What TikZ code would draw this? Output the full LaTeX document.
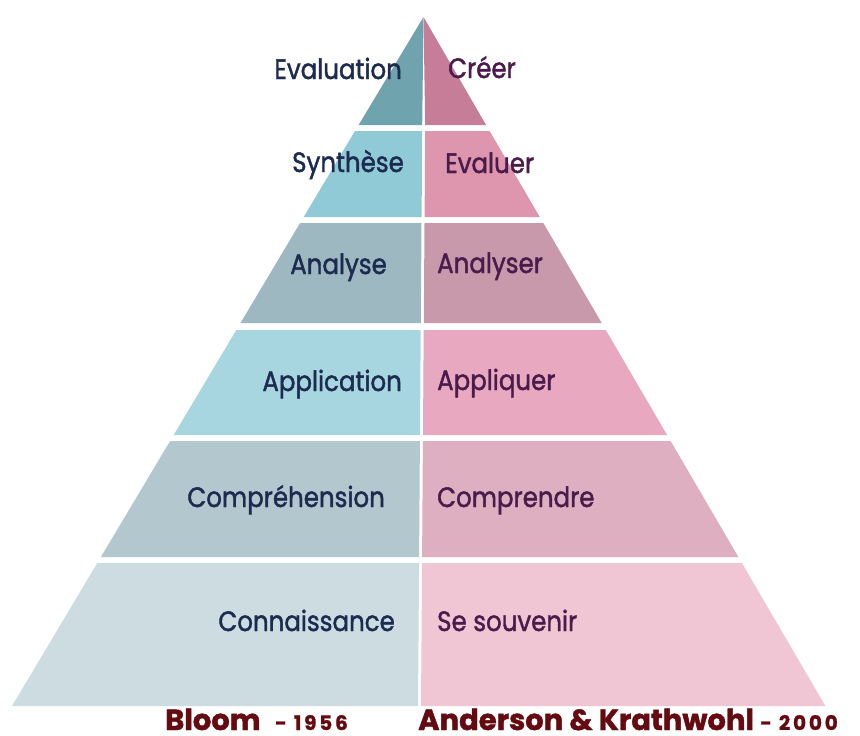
\documentclass[tikz,border=0pt]{standalone}
\usepackage{fontspec}
\setmainfont{Poppins}
\newfontfamily\labfont{Poppins}[FakeBold=1.6]
\newfontfamily\titlefont{Poppins}[BoldFeatures={FakeBold=1.5}]
\newfontfamily\yearfont{Poppins}[LetterSpace=14,BoldFeatures={FakeBold=1}]
\definecolor{LA}{RGB}{111,163,173}
\definecolor{LB}{RGB}{143,202,214}
\definecolor{LC}{RGB}{157,184,192}
\definecolor{LD}{RGB}{168,214,224}
\definecolor{LE}{RGB}{179,200,206}
\definecolor{LF}{RGB}{204,220,224}
\definecolor{RA}{RGB}{197,125,152}
\definecolor{RB}{RGB}{222,149,174}
\definecolor{RC}{RGB}{200,152,171}
\definecolor{RD}{RGB}{232,168,192}
\definecolor{RE}{RGB}{221,175,193}
\definecolor{RF}{RGB}{240,198,212}
\definecolor{navy}{RGB}{28,43,79}
\definecolor{plum}{RGB}{75,27,75}
\definecolor{maroon}{RGB}{100,10,16}
\begin{document}
\begin{tikzpicture}[x=1pt,y=-1pt,
  lab/.style={inner sep=0pt,xscale=0.875,font=\labfont\fontsize{28}{32}\selectfont},
  lleft/.style={lab,text=navy,anchor=base east},
  lright/.style={lab,text=plum,anchor=base west},
  title/.style={inner sep=0pt,anchor=base west,text=maroon,font=\titlefont\bfseries\fontsize{29}{32}\selectfont},
  year/.style={inner sep=0pt,anchor=base west,text=maroon,font=\yearfont\bfseries\fontsize{20}{24}\selectfont}]
\useasboundingbox (0,0) rectangle (860,736);
\fill[white] (0,0) rectangle (860,736);
% tier 1
\fill[LA] (358.6,125) -- (422.2,125) -- (423.5,17) -- cycle;
\fill[RA] (425.2,125) -- (486.1,125) -- (423.5,17) -- cycle;
% tier 2
\fill[LB] (355.0,131) -- (422.2,131) -- (421.6,217) -- (303.7,217) -- cycle;
\fill[RB] (425.2,131) -- (489.6,131) -- (539.8,217) -- (424.6,217) -- cycle;
% tier 3
\fill[LC] (300.1,223) -- (421.5,223) -- (420.8,323) -- (240.5,323) -- cycle;
\fill[RC] (424.5,223) -- (543.3,223) -- (601.7,323) -- (423.8,323) -- cycle;
% tier 4
\fill[LD] (236.3,330) -- (420.7,330) -- (420.0,435) -- (173.7,435) -- cycle;
\fill[RD] (423.7,330) -- (605.8,330) -- (667.1,435) -- (423.0,435) -- cycle;
% tier 5
\fill[LE] (170.1,441) -- (419.9,441) -- (419.1,557) -- (100.9,557) -- cycle;
\fill[RE] (422.9,441) -- (670.6,441) -- (738.4,557) -- (422.1,557) -- cycle;
% tier 6
\fill[LF] (97.3,563) -- (419.1,563) -- (418.0,706) -- (12,706) -- cycle;
\fill[RF] (422.1,563) -- (741.9,563) -- (825.4,706) -- (421.0,706) -- cycle;
% labels
\node[lleft] (evaluation) at (402,79) {Evaluation};
\node[lleft] (synthese) at (404,172) {Synthèse};
\node[lleft] (analyse) at (387,274) {Analyse};
\node[lleft] (application) at (402,391) {Application};
\node[lleft] (comprehension) at (385,507) {Compréhension};
\node[lleft] (connaissance) at (395,631) {Connaissance};
\node[lright] (creer) at (448,78) {Créer};
\node[lright] (evaluer) at (445,173) {Evaluer};
\node[lright] (analyser) at (437,273) {Analyser};
\node[lright] (appliquer) at (437,390) {Appliquer};
\node[lright] (comprendre) at (437,507) {Comprendre};
\node[lright] (souvenir) at (437,631) {Se souvenir};
% titles
\node[title] (bloom) at (165,730) {Bloom};
\node[year] (bloomyear) at (275,730) {- 1956};
\node[title] (ak) at (418,730) {Anderson \& Krathwohl};
\node[year] (akyear) at (760,730) {- 2000};
\end{tikzpicture}
\end{document}
